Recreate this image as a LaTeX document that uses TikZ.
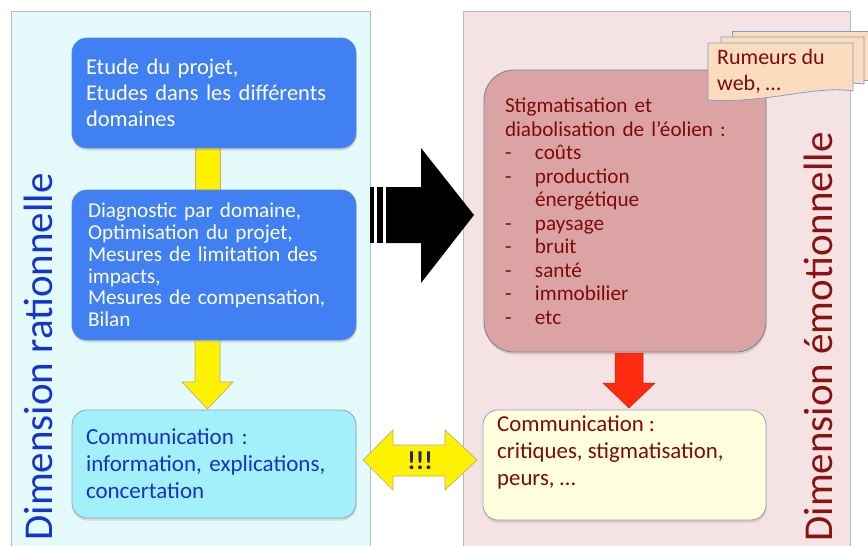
\documentclass[tikz,border=0pt]{standalone}
\usepackage{fontspec}
\setmainfont{Carlito}
\usetikzlibrary{shadows}
\definecolor{panelL}{HTML}{E4FAFB}
\definecolor{panelR}{HTML}{F5E2E2}
\definecolor{panelB}{HTML}{A9BED6}
\definecolor{blueBox}{HTML}{4080F2}
\definecolor{blueEdge}{HTML}{5A86D8}
\definecolor{cyanBox}{HTML}{A2F1FA}
\definecolor{cyanText}{HTML}{1A30C8}
\definecolor{roseBox}{HTML}{DBA3A3}
\definecolor{darkRed}{HTML}{7E0A0A}
\definecolor{creamBox}{HTML}{FFFEDD}
\definecolor{grayEdge}{HTML}{8FA3BF}
\definecolor{yel}{HTML}{FFF200}
\definecolor{yelEdge}{HTML}{B8B070}
\definecolor{redArr}{HTML}{FF2A10}
\definecolor{peach}{HTML}{FCDCBE}
\definecolor{noteB}{HTML}{7F9FD0}
\definecolor{labBlue}{HTML}{1434D0}
\definecolor{labRed}{HTML}{8A1212}
\definecolor{bangCol}{HTML}{23235E}
\begin{document}
\begin{tikzpicture}[x=1pt,y=-1pt,
  panel/.style={line width=0.8pt},
  boxbase/.style={rectangle, rounded corners=15pt, align=left, line width=0.8pt,
    drop shadow={opacity=0.25, shadow xshift=0.5pt, shadow yshift=-2.5pt}},
  bluebox/.style={boxbase, fill=blueBox, draw=blueEdge, text=white},
  cyanbox/.style={boxbase, fill=cyanBox, draw=grayEdge, text=cyanText},
  rosebox/.style={boxbase, rounded corners=30pt, fill=roseBox, draw=grayEdge!80!black, text=darkRed},
  creambox/.style={boxbase, fill=creamBox, draw=grayEdge},
  yelshape/.style={fill=yel, draw=yelEdge, line width=0.7pt},
  notepaper/.style={fill=peach, draw=noteB, line width=0.8pt},
  sidelabel/.style={rotate=90, anchor=base, inner sep=0pt, font=\fontsize{41}{44}\selectfont}
]
\useasboundingbox (0,0) rectangle (868,546);
\clip (0,0) rectangle (868,546);
\fill[white] (0,0) rectangle (868,546);

% panels
\draw[panel, fill=panelL, draw=panelB] (11,11) rectangle (370,560);
\draw[panel, fill=panelR, draw=panelB] (463,11) rectangle (850,560);

% side labels
\node[sidelabel, text=labBlue] (labL) at (52,357) {Dimension rationnelle};
\node[sidelabel, text=labRed] (labR) at (832,337) {Dimension émotionnelle};

% yellow connector (left column)
\draw[yelshape] (195,146) rectangle (220,192);

% left boxes
\node[bluebox, text width=256pt, inner xsep=14pt, minimum height=110pt,
  font=\fontsize{22.5}{26}\selectfont] (b1) at (214,93)
  {Etude du projet,\\Etudes dans les différents\\domaines};
\node[bluebox, text width=252pt, inner xsep=16pt, minimum height=150pt,
  font=\fontsize{21.2}{21.8}\selectfont] (b2) at (214,265)
  {Diagnostic par domaine,\\Optimisation du projet,\\Mesures de limitation des\\impacts,\\Mesures de compensation,\\Bilan};

\draw[yelshape] (195,341) -- (220,341) -- (220,382) -- (233,382) -- (207.5,409)
  -- (182,382) -- (195,382) -- cycle;

\node[cyanbox, text width=256pt, inner xsep=14pt, minimum height=108pt,
  font=\fontsize{23}{27}\selectfont] (b3) at (214,464)
  {Communication :\\information, explications,\\concertation};

% right boxes
\node[rosebox, text width=240pt, inner xsep=21pt, minimum height=282pt,
  font=\fontsize{21.2}{23.5}\selectfont] (r1) at (625,211)
  {Stigmatisation et\\diabolisation de l'éolien :\\
   \makebox[30pt][l]{-}coûts\\
   \makebox[30pt][l]{-}production\\
   \hspace*{30pt}énergétique\\
   \makebox[30pt][l]{-}paysage\\
   \makebox[30pt][l]{-}bruit\\
   \makebox[30pt][l]{-}santé\\
   \makebox[30pt][l]{-}immobilier\\
   \makebox[30pt][l]{-}etc};

\draw[fill=redArr, draw=redArr!80!black, line width=0.5pt] (615,353) -- (643,353) -- (643,383)
  -- (655,383) -- (629,408) -- (603,383) -- (615,383) -- cycle;

\node[creambox, minimum width=283pt, minimum height=110pt] (r2) at (624.5,465) {};
\node[anchor=north west, inner sep=0pt, align=left, text=darkRed,
  font=\fontsize{22.8}{27}\selectfont] (r2t) at (497,416)
  {Communication :\\critiques, stigmatisation,\\peurs, …};

% sticky notes
\draw[notepaper] (732,31) -- (870,31) -- (870,80) -- (732,80) -- cycle;
\draw[notepaper] (721,37) -- (864,37) -- (864,84) .. controls (830,80) and (790,92) .. (721,90) -- cycle;
\draw[notepaper] (708,43) -- (853,43) -- (853,91) .. controls (815,85) and (765,104) .. (708,100) -- cycle;
\node[anchor=north west, inner sep=0pt, align=left, text=darkRed,
  font=\fontsize{22}{26}\selectfont] (note) at (717,49) {Rumeurs du\\web, …};

% black arrow
\fill[black] (370,187) rectangle (373.5,243);
\fill[black] (377,187) rectangle (383,243);
\fill[black] (386,187) -- (421,187) -- (421,148) -- (474,215) -- (421,283) -- (421,243) -- (386,243) -- cycle;

% yellow double arrow
\draw[yelshape] (363,460) -- (393,430) -- (393,445) -- (445,445) -- (445,430) -- (477,460)
  -- (445,490) -- (445,476) -- (393,476) -- (393,490) -- cycle;
\node[text=bangCol, font=\fontsize{26}{28}\selectfont\bfseries] (bang) at (420,461) {!!!};
\end{tikzpicture}
\end{document}
